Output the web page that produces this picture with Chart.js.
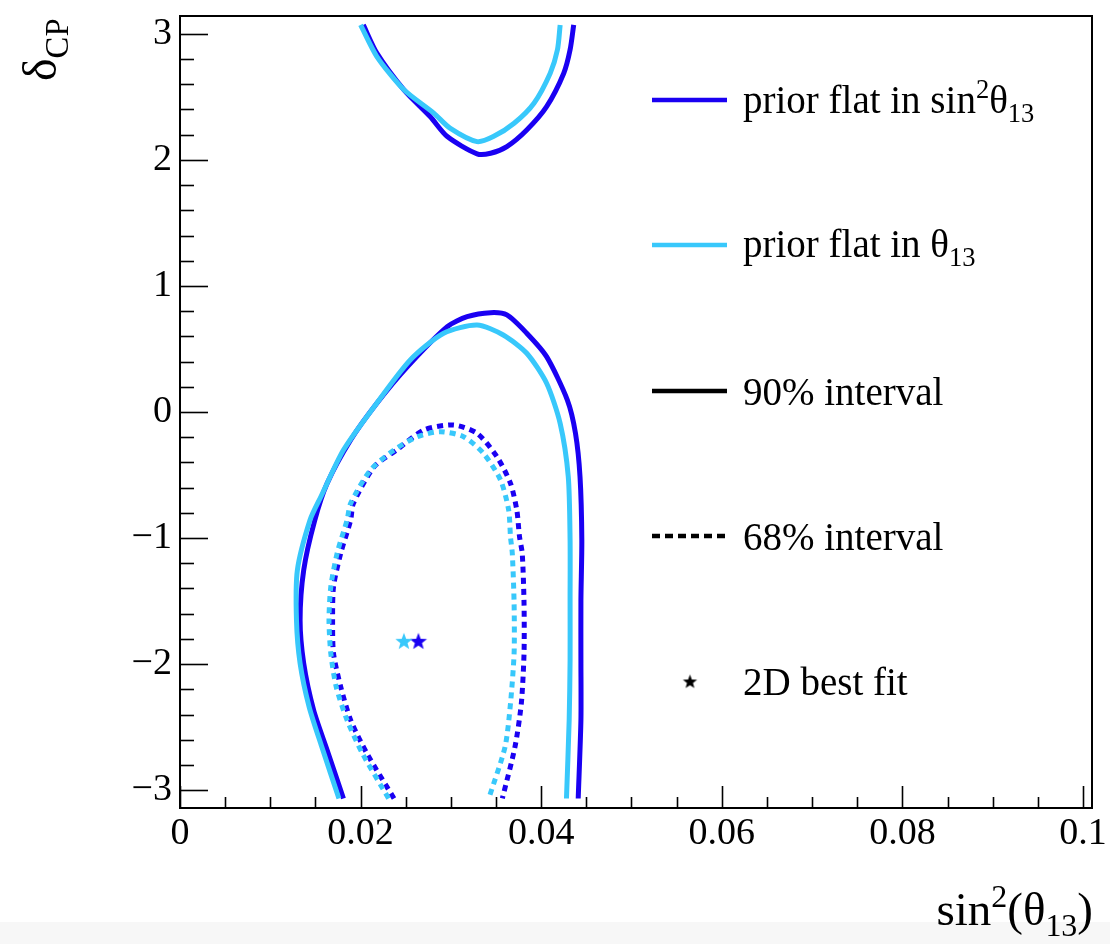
<!DOCTYPE html>
<html><head><meta charset="utf-8">
<script src="https://cdn.jsdelivr.net/npm/chart.js@4.4.1/dist/chart.umd.min.js"></script>
<style>html,body{margin:0;padding:0;background:#fff;overflow:hidden}#wrap{width:1110px;height:944px;position:relative}canvas{display:block}</style>
</head><body><div id="wrap"><canvas id="c" width="1110" height="944"></canvas></div>
<script>
// ---- axis ticks ----
const xTickValues = [0, 0.02, 0.04, 0.06, 0.08, 0.1];
const xTickLabels = ['0', '0.02', '0.04', '0.06', '0.08', '0.1'];
const yTickValues = [-3, -2, -1, 0, 1, 2, 3];
const yTickLabels = ['\u22123', '\u22122', '\u22121', '0', '1', '2', '3'];

// ---- prior flat in sin^2(theta13) (dark blue) ----
const sin2Prior90UpperX = [0.0203,0.0218,0.0248,0.0277,0.0296,0.0329,0.0344,0.0362,0.0384,0.0406,0.0425,0.0432,0.0436];
const sin2Prior90UpperY = [3.071,2.847,2.556,2.344,2.185,2.048,2.053,2.106,2.238,2.423,2.688,2.873,3.071];
const sin2Prior90LowerX = [0.0181,0.0163,0.0148,0.0137,0.0133,0.0137,0.0149,0.0163,0.0189,0.0218,0.0252,0.0296,0.0318,0.0344,0.0362,0.0384,0.0406,0.0429,0.0438,0.0443,0.0445,0.0444,0.0444,0.0444,0.0441];
const sin2Prior90LowerY = [-3.066,-2.683,-2.365,-1.994,-1.651,-1.254,-0.865,-0.566,-0.222,0.069,0.360,0.677,0.756,0.788,0.770,0.625,0.439,0.095,-0.169,-0.513,-1.016,-1.492,-1.968,-2.444,-3.066];
const sin2Prior68X = [0.0237,0.0207,0.0189,0.0178,0.0170,0.0169,0.0170,0.0178,0.0189,0.0192,0.0215,0.0240,0.0270,0.0303,0.0329,0.0351,0.0366,0.0373,0.0376,0.0379,0.0381,0.0381,0.0378,0.0371,0.0357];
const sin2Prior68Y = [-3.066,-2.709,-2.444,-2.180,-1.915,-1.651,-1.387,-1.121,-0.857,-0.725,-0.434,-0.302,-0.143,-0.103,-0.169,-0.355,-0.566,-0.778,-0.990,-1.121,-1.518,-1.915,-2.312,-2.656,-3.066];
const sin2PriorBestX = [0.0264];
const sin2PriorBestY = [-1.823];

// ---- prior flat in theta13 (light blue) ----
const thetaPrior90UpperX = [0.0200,0.0218,0.0248,0.0281,0.0299,0.0329,0.0347,0.0370,0.0392,0.0410,0.0418,0.0421];
const thetaPrior90UpperY = [3.071,2.820,2.556,2.371,2.252,2.145,2.185,2.291,2.450,2.688,2.873,3.071];
const thetaPrior90LowerX = [0.0176,0.0157,0.0143,0.0133,0.0129,0.0130,0.0144,0.0156,0.0181,0.0215,0.0255,0.0292,0.0329,0.0358,0.0384,0.0406,0.0421,0.0430,0.0432,0.0432,0.0432,0.0431,0.0428];
const thetaPrior90LowerY = [-3.066,-2.656,-2.339,-1.994,-1.651,-1.254,-0.857,-0.672,-0.302,0.042,0.413,0.625,0.690,0.611,0.466,0.228,-0.090,-0.513,-1.016,-1.492,-1.968,-2.444,-3.066];
const thetaPrior68X = [0.0231,0.0202,0.0185,0.0173,0.0167,0.0165,0.0167,0.0174,0.0185,0.0189,0.0211,0.0237,0.0263,0.0288,0.0314,0.0336,0.0355,0.0364,0.0366,0.0368,0.0370,0.0370,0.0366,0.0360,0.0342];
const thetaPrior68Y = [-3.066,-2.709,-2.444,-2.180,-1.915,-1.651,-1.387,-1.121,-0.857,-0.725,-0.460,-0.302,-0.196,-0.156,-0.196,-0.328,-0.540,-0.778,-0.990,-1.121,-1.518,-1.915,-2.312,-2.656,-3.066];
const thetaPriorBestX = [0.0248];
const thetaPriorBestY = [-1.823];

// ---- legend ----
const legendLabels = [
  [{t:'prior flat in sin'},{t:'2',sup:true},{t:'\u03b8'},{t:'13',sub:true}],
  [{t:'prior flat in \u03b8'},{t:'13',sub:true}],
  [{t:'90% interval'}],
  [{t:'68% interval'}],
  [{t:'2D best fit'}]
];
const xTitle = [{t:'sin'},{t:'2',sup:true},{t:'(\u03b8'},{t:'13',sub:true},{t:')'}];
const yTitle = [{t:'\u03b4'},{t:'CP',sub:true}];

const DARK = '#1a00f2';
const LIGHT = '#38c8fb';
const FONT = '"Liberation Serif", "Times New Roman", serif';

function pts(xs, ys){ return xs.map((x,i)=>({x:x, y:ys[i]})); }
function makeStar(color, r){
  const s = Math.ceil(r*2+4), cv = document.createElement('canvas');
  cv.width = s; cv.height = s;
  const g = cv.getContext('2d');
  g.fillStyle = color; g.beginPath();
  for (let i=0;i<10;i++){
    const a = -Math.PI/2 + i*Math.PI/5, rr = (i%2) ? r*0.42 : r;
    g.lineTo(s/2 + rr*Math.cos(a), s/2 + rr*Math.sin(a));
  }
  g.closePath(); g.fill();
  return cv;
}
function richWidth(ctx, segs, size){
  let w=0;
  for (const s of segs){ const fs=(s.sup||s.sub)?size*0.68:size; ctx.font=fs+'px '+FONT; w+=ctx.measureText(s.t).width; }
  return w;
}
function richText(ctx, segs, x, y, size){
  let cx=x;
  for (const s of segs){
    let fs=size, dy=0;
    if (s.sup){ fs=size*0.68; dy=-size*0.38; }
    if (s.sub){ fs=size*0.68; dy=size*0.24; }
    ctx.font=fs+'px '+FONT;
    ctx.fillText(s.t, cx, y+dy);
    cx+=ctx.measureText(s.t).width;
  }
}

const lineDs = (label, data, color, dash) => ({
  label, data, showLine:true, borderColor:color, backgroundColor:color,
  borderWidth:5, borderDash:dash||[], pointRadius:0, pointHoverRadius:0,
  tension:0.25, fill:false, borderJoinStyle:'round', borderCapStyle:'butt'
});
const starDs = (label, data, color) => ({
  label, data, showLine:false, pointStyle:makeStar(color,9), pointRadius:9, borderWidth:0
});

const framePlugin = {
  id:'frame',
  beforeDraw(chart){
    const c=chart.ctx; c.save(); c.fillStyle='#f7f7f7'; c.fillRect(0,922,1110,22); c.restore();
  },
  afterDatasetsDraw(chart){
    const {ctx, chartArea:a, scales:{x,y}} = chart;
    ctx.save();
    ctx.strokeStyle='#000';
    // x ticks (inward)
    ctx.lineWidth=1.6;
    for (let i=0;i<=20;i++){
      const v=i*0.005, px=Math.round(x.getPixelForValue(v))+0.5, L=(i%4===0)?22:11;
      ctx.beginPath(); ctx.moveTo(px,a.bottom); ctx.lineTo(px,a.bottom-L); ctx.stroke();
    }
    for (let i=-15;i<=15;i++){
      const v=i*0.2, py=Math.round(y.getPixelForValue(v))+0.5, L=(i%5===0)?28:14;
      ctx.beginPath(); ctx.moveTo(a.left,py); ctx.lineTo(a.left+L,py); ctx.stroke();
    }
    ctx.lineWidth=2;
    ctx.strokeRect(a.left, a.top, a.right-a.left, a.bottom-a.top);

    // legend
    ctx.fillStyle='#000';
    ctx.textBaseline='alphabetic'; ctx.textAlign='left';
    const lx0=652, lx1=727, tx=743;
    const rows=[{y:100,b:113},{y:245,b:257},{y:391,b:405},{y:536,b:550},{y:682,b:695}];
    const styles=[{c:DARK},{c:LIGHT},{c:'#000'},{c:'#000',d:[8,5]},{star:true}];
    rows.forEach((r,i)=>{
      const st=styles[i];
      if (st.star){
        const s=makeStar('#000',7.5); ctx.drawImage(s, 690-s.width/2, r.y-s.height/2);
      } else {
        ctx.save(); ctx.strokeStyle=st.c; ctx.lineWidth=4.5; ctx.setLineDash(st.d||[]);
        ctx.beginPath(); ctx.moveTo(lx0,r.y); ctx.lineTo(lx1,r.y); ctx.stroke(); ctx.restore();
      }
      richText(ctx, legendLabels[i], tx, r.b, 39);
    });

    // axis titles
    const w=richWidth(ctx, xTitle, 47);
    richText(ctx, xTitle, 1093-w, 925, 47);
    ctx.save(); ctx.translate(56,81); ctx.rotate(-Math.PI/2);
    richText(ctx, yTitle, 0, 0, 48);
    ctx.restore();
    ctx.restore();
  }
};

new Chart(document.getElementById('c'), {
  type:'scatter',
  data:{datasets:[
    lineDs('theta 90 upper', pts(thetaPrior90UpperX, thetaPrior90UpperY), LIGHT),
    lineDs('theta 90 lower', pts(thetaPrior90LowerX, thetaPrior90LowerY), LIGHT),
    lineDs('theta 68', pts(thetaPrior68X, thetaPrior68Y), LIGHT, [6,5]),
    lineDs('sin2 90 upper', pts(sin2Prior90UpperX, sin2Prior90UpperY), DARK),
    lineDs('sin2 90 lower', pts(sin2Prior90LowerX, sin2Prior90LowerY), DARK),
    lineDs('sin2 68', pts(sin2Prior68X, sin2Prior68Y), DARK, [6,5]),
    starDs('theta best', pts(thetaPriorBestX, thetaPriorBestY), LIGHT),
    starDs('sin2 best', pts(sin2PriorBestX, sin2PriorBestY), DARK)
  ]},
  options:{
    responsive:false, animation:false, devicePixelRatio:1,
    layout:{padding:{left:0,right:18,top:16,bottom:0}},
    plugins:{legend:{display:false}, tooltip:{enabled:false}},
    scales:{
      x:{type:'linear', min:0, max:0.101,
        grid:{display:false, drawTicks:false}, border:{display:false},
        afterBuildTicks(s){ s.ticks = xTickValues.map(v=>({value:v})); },
        afterFit(s){ s.height=136; s.paddingLeft=0; s.paddingRight=0; },
        ticks:{font:{family:FONT,size:38}, color:'#000', padding:3, maxRotation:0, autoSkip:false,
          callback:(v)=>{ const i=xTickValues.findIndex(t=>Math.abs(t-v)<1e-9); return i>=0?xTickLabels[i]:''; }}
      },
      y:{type:'linear', min:-Math.PI, max:Math.PI,
        grid:{display:false, drawTicks:false}, border:{display:false},
        afterBuildTicks(s){ s.ticks = yTickValues.map(v=>({value:v})); },
        afterFit(s){ s.width=180; s.paddingTop=0; s.paddingBottom=0; },
        ticks:{font:{family:FONT,size:38}, color:'#000', padding:8, autoSkip:false,
          callback:(v)=>{ const i=yTickValues.findIndex(t=>Math.abs(t-v)<1e-9); return i>=0?yTickLabels[i]:''; }}
      }
    }
  },
  plugins:[framePlugin]
});
</script></body></html>
